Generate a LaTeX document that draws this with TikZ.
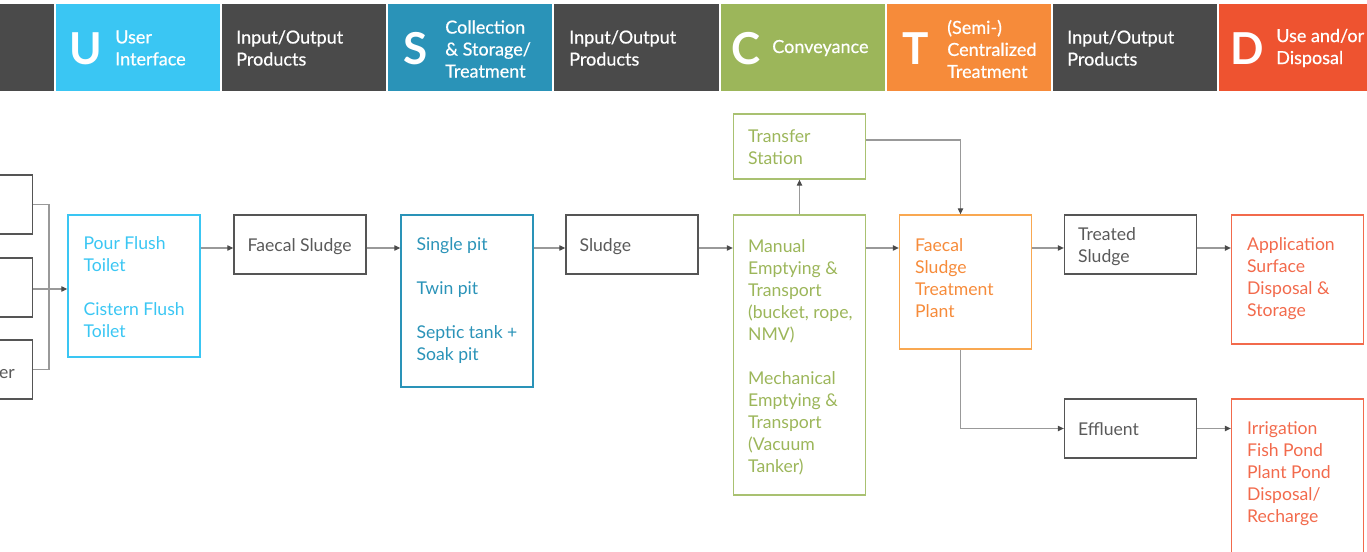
\documentclass[tikz,border=0pt]{standalone}
\usepackage{fontspec}
\setmainfont{Lato}
\newfontfamily\hfont[FakeBold=0.6]{Lato}
\usetikzlibrary{arrows.meta,calc}
\definecolor{hdark}{HTML}{4A4A4A}
\definecolor{ublue}{HTML}{3AC6F3}
\definecolor{sblue}{HTML}{2A93B8}
\definecolor{cgreen}{HTML}{9CB65A}
\definecolor{cgreenl}{HTML}{A9C171}
\definecolor{torange}{HTML}{F68B3A}
\definecolor{torangel}{HTML}{F9A851}
\definecolor{dred}{HTML}{EE5330}
\definecolor{dredl}{HTML}{F26A4C}
\definecolor{bdark}{HTML}{555555}
\definecolor{btext}{HTML}{5A5A5A}
\definecolor{lgray}{HTML}{999999}
\definecolor{tipgray}{HTML}{4A4A4A}
\begin{document}
\begin{tikzpicture}[x=0.75pt,y=-0.75pt,
  hdr/.style={draw=none,inner sep=0pt,minimum height=65.25pt,anchor=north west},
  hletter/.style={text=white,font=\fontsize{33}{33}\selectfont\bfseries,anchor=base,inner sep=0pt},
  hlabel/.style={text=white,font=\hfont\fontsize{13.5}{16.5}\selectfont,anchor=west,align=left,inner sep=0pt},
  box/.style={draw,line width=1pt,minimum width=99pt,inner sep=0pt},
  gbox/.style={box,draw=bdark},
  txt/.style={anchor=west,align=left,inner sep=0pt,font=\fontsize{13.2}{16.5}\selectfont},
  gtxt/.style={txt,text=btext},
  conn/.style={draw=lgray,line width=0.8pt,-{Triangle[length=4.5pt,width=4pt,color=tipgray]}},
  plain/.style={draw=lgray,line width=0.8pt}
]
\useasboundingbox (0,0) rectangle (1367,552);
\begin{scope}
\clip (0,0) rectangle (1367,552);
% header
\node[hdr,fill=hdark,minimum width=40.5pt] (h0) at (0,4) {};
\node[hdr,fill=ublue,minimum width=123pt] (hU) at (56,4) {};
\node[hdr,fill=hdark,minimum width=123pt] (h1) at (222,4) {};
\node[hdr,fill=sblue,minimum width=123pt] (hS) at (388,4) {};
\node[hdr,fill=hdark,minimum width=123.75pt] (h2) at (554,4) {};
\node[hdr,fill=cgreen,minimum width=123pt] (hC) at (721,4) {};
\node[hdr,fill=torange,minimum width=123pt] (hT) at (887,4) {};
\node[hdr,fill=hdark,minimum width=123pt] (h3) at (1053,4) {};
\node[hdr,fill=dred,minimum width=111pt] (hD) at (1219,4) {};

\node[hletter] (lU) at (85.5,65) {U};
\node[hletter] (lS) at (416,65) {S};
\node[hletter] (lC) at (746.5,65) {C};
\node[hletter] (lT) at (916,65) {T};
\node[hletter] (lD) at (1247.5,65) {D};

\node[hlabel] (tU) at (115,48) {User\\Interface};
\node[hlabel] (t1) at (236,48) {Input/Output\\Products};
\node[hlabel] (tS) at (445,49) {Collection\\\& Storage/\\Treatment};
\node[hlabel] (t2) at (569,48) {Input/Output\\Products};
\node[hlabel] (tC) at (772,48) {Conveyance};
\node[hlabel] (tT) at (947,49) {(Semi-)\\Centralized\\Treatment};
\node[hlabel] (t3) at (1067,48) {Input/Output\\Products};
\node[hlabel] (tD) at (1276,48) {Use and/or\\Disposal};

% left cut boxes
\node[gbox,minimum height=44.25pt] (L1) at (-33.5,204.5) {};
\node[gbox,minimum height=44.25pt] (L2) at (-33.5,287.5) {};
\node[gbox,minimum height=44.25pt] (L3) at (-33.5,369.5) {};
\node[anchor=base east,inner sep=0pt,text=btext,font=\fontsize{13.2}{16.5}\selectfont] (L3t) at (15,378) {er};

% body boxes
\node[box,draw=ublue,minimum height=106.5pt] (UI) at (134,286) {};
\node[gbox,minimum height=44.25pt] (FS) at (300,244.5) {};
\node[box,draw=sblue,minimum height=129pt] (S) at (467,301) {};
\node[gbox,minimum height=44.25pt] (SL) at (632,244.5) {};
\node[box,draw=cgreenl,minimum height=48.75pt] (TS) at (799.5,146.5) {};
\node[box,draw=cgreenl,minimum height=210pt] (MA) at (799.5,355) {};
\node[box,draw=torangel,minimum height=100.5pt] (FT) at (965.5,282) {};
\node[gbox,minimum height=44.25pt] (TR) at (1130.5,244.5) {};
\node[gbox,minimum height=44.25pt] (EF) at (1130.5,428.5) {};
\node[box,draw=dredl,minimum height=96.75pt] (AP) at (1297.5,279.5) {};
\node[box,draw=dredl,minimum height=115.5pt] (IR) at (1297.5,476) {};

% box texts
\node[txt,text=ublue] (UIt) at ($(UI.west)+(16,1)$) {Pour Flush\\Toilet\\[16.5pt]Cistern Flush\\Toilet};
\node[gtxt] (FSt) at ($(FS.west)+(14,2)$) {Faecal Sludge};
\node[txt,text=sblue] (St) at ($(S.west)+(16,0)$) {Single pit\\[16.5pt]Twin pit\\[16.5pt]Septic tank +\\Soak pit};
\node[gtxt] (SLt) at ($(SL.west)+(14,2)$) {Sludge};
\node[txt,text=cgreen] (TSt) at ($(TS.west)+(15,1)$) {Transfer\\Station};
\node[txt,text=cgreen] (MAt) at ($(MA.west)+(15,2)$) {Manual\\Emptying \&\\Transport\\(bucket, rope,\\NMV)\\[16.5pt]Mechanical\\Emptying \&\\Transport\\(Vacuum\\Tanker)};
\node[txt,text=torange] (FTt) at ($(FT.west)+(16,-4)$) {Faecal\\Sludge\\Treatment\\Plant};
\node[gtxt] (TRt) at ($(TR.west)+(14,2)$) {Treated\\Sludge};
\node[gtxt] (EFt) at ($(EF.west)+(14,1)$) {Effluent};
\node[txt,text=dredl] (APt) at ($(AP.west)+(16,-1)$) {Application\\Surface\\Disposal \&\\Storage};
\node[txt,text=dredl] (IRt) at ($(IR.west)+(16,-2)$) {Irrigation\\Fish Pond\\Plant Pond\\Disposal/\\Recharge};

% connectors
\coordinate (J) at (49,289);
\draw[plain] (L1.east) -| (J);
\draw[plain] (L3.east) -| (J);
\draw[conn] (L2.east |- J) -- (UI.west |- J);
\draw[conn] (UI.east |- 0,248) -- (FS.west |- 0,248);
\draw[conn] (FS.east |- 0,248) -- (S.west |- 0,248);
\draw[conn] (S.east |- 0,248) -- (SL.west |- 0,248);
\draw[conn] (SL.east |- 0,248) -- (MA.west |- 0,248);
\draw[conn] (MA.east |- 0,248) -- (FT.west |- 0,248);
\draw[conn] (MA.north) -- (TS.south);
\draw[conn] (TS.east |- 0,140) -| ($(FT.north)+(-5,0)$);
\draw[conn] (FT.east |- 0,248) -- (TR.west |- 0,248);
\draw[conn] (TR.east |- 0,248) -- (AP.west |- 0,248);
\draw[conn] ($(FT.south)+(-5,0)$) |- (EF.west);
\draw[conn] (EF.east) -- (IR.west |- EF.east);
\end{scope}
\end{tikzpicture}
\end{document}
